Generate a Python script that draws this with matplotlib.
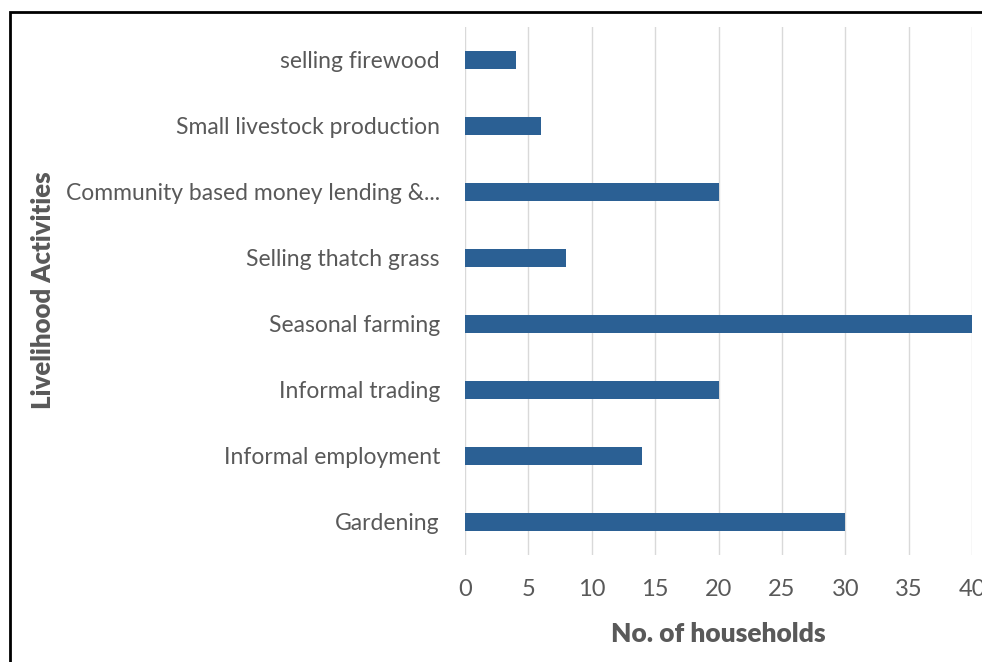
import matplotlib.pyplot as plt
from matplotlib.patches import Rectangle

activities = ["Gardening", "Informal employment", "Informal trading", "Seasonal farming",
              "Selling thatch grass", "Community based money lending &...",
              "Small livestock production", "selling firewood"]
households = [30, 14, 20, 40, 8, 20, 6, 4]
x_ticks = [0, 5, 10, 15, 20, 25, 30, 35, 40]

plt.rcParams['font.family'] = ['Lato', 'DejaVu Sans']

W, H = 982, 662
fig = plt.figure(figsize=(W / 100, H / 100), dpi=100)
ax = fig.add_axes([465 / W, 1 - 555 / H, (972 - 465) / W, (555 - 27) / H])

ax.barh(range(len(activities)), households, height=0.28, color='#2B6094')
ax.set_xlim(0, 40)
ax.set_ylim(-0.5, len(activities) - 0.5)
ax.set_yticks(range(len(activities)))
ax.set_yticklabels(activities)
ax.set_xticks(x_ticks)
ax.tick_params(axis='y', length=0, pad=18, labelsize=16.5, labelcolor='#595959')
ax.tick_params(axis='x', length=0, pad=17, labelsize=17, labelcolor='#595959')
ax.grid(axis='x', color='#D9D9D9', linewidth=1)
ax.set_axisbelow(True)
for s in ax.spines.values():
    s.set_visible(False)

ax.set_xlabel("No. of households", fontsize=19, fontweight='heavy', color='#595959', labelpad=16)
fig.text(43 / W, 1 - 290 / H, "Livelihood Activities", rotation=90, fontsize=18.5,
         fontweight='heavy', color='#595959', ha='center', va='center')

fig.patches.append(Rectangle((10 / W, -0.1), 1.2, 1 - 12 / H + 0.1, transform=fig.transFigure,
                             fill=False, edgecolor='black', linewidth=2))

fig.savefig("out.png", dpi=100)
